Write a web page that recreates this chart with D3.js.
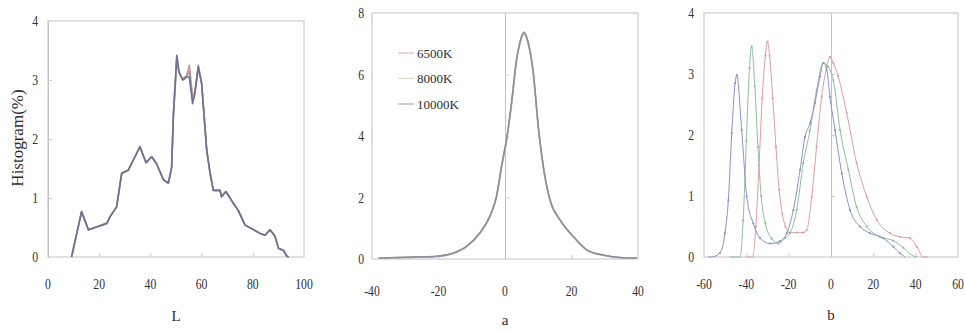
<!DOCTYPE html>
<html>
<head>
<meta charset="utf-8">
<script src="https://cdn.jsdelivr.net/npm/d3@7"></script>
<style>
  body { margin: 0; background: #fff; }
  svg { display: block; }
  text { font-family: "Liberation Serif", "DejaVu Serif", serif; fill: #2e2e2e; }
</style>
</head>
<body>
<div id="chart"></div>
<script>
// ---- data ----
const seriesNames = ["6500K", "8000K", "10000K"];

// L histogram (three series nearly on top of each other)
const lX = [9.2, 13.1, 15.8, 18.9, 23, 24.2, 26.8, 28.8, 31.3, 33.3, 35.9, 38.3, 40.5, 42.4, 45.1, 47, 48.3, 49, 50.3, 51.2, 52.6, 54.2, 55.2, 56.5, 57.4, 58.7, 60, 62, 63.3, 64.6, 67.2, 67.8, 69.5, 72.4, 74.3, 77, 79.6, 82.8, 84.8, 86.7, 88.7, 90, 92, 93.2, 94];
const l6500 = [0, 0.77, 0.46, 0.51, 0.57, 0.68, 0.85, 1.42, 1.47, 1.64, 1.87, 1.6, 1.7, 1.58, 1.31, 1.25, 1.52, 2.4, 3.3, 3.12, 3.02, 3.08, 3.25, 2.72, 2.8, 3.25, 2.96, 1.82, 1.42, 1.13, 1.13, 1.02, 1.11, 0.91, 0.79, 0.54, 0.48, 0.4, 0.37, 0.46, 0.35, 0.15, 0.11, 0.02, 0];
const l8000 = [0, 0.76, 0.46, 0.51, 0.57, 0.68, 0.85, 1.42, 1.47, 1.64, 1.86, 1.6, 1.7, 1.58, 1.31, 1.25, 1.52, 2.42, 3.36, 3.13, 3.0, 3.06, 3.15, 2.65, 2.79, 3.2, 2.95, 1.81, 1.42, 1.13, 1.13, 1.02, 1.11, 0.91, 0.79, 0.54, 0.48, 0.4, 0.37, 0.46, 0.35, 0.15, 0.11, 0.02, 0];
const l10000 = [0, 0.77, 0.46, 0.51, 0.57, 0.68, 0.85, 1.42, 1.47, 1.64, 1.87, 1.6, 1.7, 1.58, 1.31, 1.25, 1.52, 2.43, 3.42, 3.14, 3.0, 3.05, 3.05, 2.6, 2.78, 3.23, 2.94, 1.81, 1.42, 1.13, 1.13, 1.02, 1.11, 0.91, 0.79, 0.54, 0.48, 0.4, 0.37, 0.46, 0.35, 0.15, 0.11, 0.02, 0];

// a histogram
const aX = [-38, -35.6, -25.6, -20.5, -15.5, -11.5, -7.5, -4.5, -2.5, -1, 0.5, 2, 3.5, 4.5, 5.7, 7, 8.5, 10, 11.5, 13.5, 16.5, 20.5, 24.6, 29.6, 34.6, 39.6];
const a6500 = [0.02, 0.03, 0.06, 0.08, 0.18, 0.4, 0.84, 1.38, 2.03, 3.0, 3.87, 5.06, 6.47, 7.0, 7.32, 7.0, 6.04, 4.3, 3.0, 1.92, 1.27, 0.73, 0.29, 0.12, 0.04, 0.03];
const a8000 = [0.02, 0.04, 0.06, 0.09, 0.19, 0.41, 0.85, 1.4, 2.06, 3.04, 3.9, 5.1, 6.5, 7.04, 7.35, 7.02, 6.06, 4.32, 3.02, 1.93, 1.28, 0.74, 0.3, 0.12, 0.05, 0.03];
const a10000 = [0.03, 0.04, 0.07, 0.09, 0.2, 0.42, 0.86, 1.41, 2.07, 3.05, 3.92, 5.12, 6.52, 7.06, 7.38, 7.04, 6.08, 4.33, 3.03, 1.94, 1.28, 0.74, 0.3, 0.13, 0.05, 0.03];

// b histogram (three clearly separated series)
const bX6500 = [-40, -37, -35.5, -34, -32.5, -31, -30, -29, -27.5, -26, -24.5, -23, -21.5, -19.5, -16.2, -13.1, -11.5, -9.1, -6.8, -4.4, -2, -0.5, 1.1, 3.4, 7.4, 12.1, 16.9, 21.6, 27.9, 32.6, 37.3, 40.5, 43.6, 46];
const bY6500 = [0, 0, 0.5, 1.5, 2.6, 3.3, 3.53, 3.3, 2.6, 1.8, 1.1, 0.7, 0.5, 0.4, 0.4, 0.4, 0.44, 0.99, 1.81, 2.63, 3.12, 3.28, 3.18, 2.96, 2.36, 1.54, 0.99, 0.61, 0.39, 0.33, 0.31, 0.17, 0, 0];
const bX8000 = [-48, -43, -41.5, -40, -38.5, -37.5, -36, -34.5, -33, -31, -28, -24.9, -21.7, -19.4, -16.2, -13.1, -9.9, -6.8, -3.6, -1.3, 1.1, 4.3, 8.2, 12.1, 16.9, 23.1, 29.4, 34.2, 37.3, 40.5];
const bY8000 = [0, 0, 0.6, 1.9, 3.1, 3.45, 2.8, 1.8, 1.0, 0.55, 0.3, 0.22, 0.31, 0.39, 0.77, 1.54, 2.08, 2.74, 3.18, 3.12, 2.9, 2.08, 1.43, 0.82, 0.5, 0.33, 0.27, 0.15, 0.05, 0];
const bX10000 = [-58, -56.4, -52.4, -50.1, -48.5, -46.9, -45.3, -44.5, -42.2, -39.8, -36.7, -33.5, -28.8, -24.1, -20.9, -17.8, -14.6, -12.3, -9.9, -7.6, -5.2, -3.6, -2, -0.5, 1.9, 5.1, 9, 13.7, 18.4, 24.7, 29.4, 32.6, 35];
const bY10000 = [0, 0, 0.07, 0.39, 0.93, 2.03, 2.85, 2.98, 2.08, 0.99, 0.55, 0.31, 0.22, 0.26, 0.39, 0.77, 1.43, 1.97, 2.19, 2.52, 2.96, 3.18, 3.07, 2.63, 2.08, 1.37, 0.77, 0.5, 0.39, 0.31, 0.17, 0.06, 0];

// ---- styles ----
const legendColors = ["#e2b4b8", "#d8dcb8", "#a9a9bf"];
const frameColor = "#c2c2c2";

const svg = d3.select("#chart").append("svg")
  .attr("width", 965)
  .attr("height", 333);

function drawPanel(o) {
  const g = svg.append("g");
  const x = d3.scaleLinear().domain(o.xDomain).range([o.left, o.right]);
  const y = d3.scaleLinear().domain(o.yDomain).range([o.bottom, o.top]);

  g.append("rect")
    .attr("x", o.left).attr("y", o.top)
    .attr("width", o.right - o.left).attr("height", o.bottom - o.top)
    .attr("fill", "none").attr("stroke", frameColor);

  // small inward ticks along the bottom
  g.append("g")
    .attr("transform", `translate(0,${o.bottom})`)
    .call(d3.axisBottom(x).tickValues(o.xTicks.slice(1, -1)).tickSize(-4).tickFormat(""))
    .call(a => a.select(".domain").remove())
    .selectAll("line").attr("stroke", "#cacaca");

  // vertical axis through x = 0
  g.append("g")
    .attr("transform", `translate(${x(0)},0)`)
    .call(d3.axisRight(y).tickValues(o.yTicks.slice(1, -1)).tickSize(4).tickSizeOuter(0).tickFormat(""))
    .call(a => a.select(".domain").attr("stroke", frameColor))
    .selectAll("line").attr("stroke", "#cacaca");

  g.selectAll(".xlab").data(o.xTicks).join("text")
    .attr("transform", d => `translate(${x(d)},${o.bottom + o.xLabelDy}) scale(0.78,1)`)
    .attr("text-anchor", "middle")
    .style("font-size", "15px")
    .text(d => String(d));

  g.selectAll(".ylab").data(o.yTicks).join("text")
    .attr("transform", d => `translate(${o.left - o.yLabelDx},${y(d) + 5}) scale(0.78,1)`)
    .attr("text-anchor", "end")
    .style("font-size", "15px")
    .text(d => String(d));

  g.append("text")
    .attr("x", x(o.titleAt)).attr("y", o.bottom + o.titleDy)
    .attr("text-anchor", "middle")
    .style("font-size", "15px")
    .text(o.title);

  const line = d3.line().curve(o.curve).x(d => x(d[0])).y(d => y(d[1]));
  o.series.forEach((s, i) => {
    const pts = d3.zip(s.x, s.y);
    g.append("path")
      .datum(pts)
      .attr("d", line)
      .attr("fill", "none")
      .attr("stroke", o.colors[i])
      .attr("stroke-width", o.lineWidth)
      .attr("stroke-linejoin", "round");
    if (o.markers) {
      g.selectAll(null).data(pts.filter(p => p[1] > 0.05)).join("circle")
        .attr("cx", p => x(p[0])).attr("cy", p => y(p[1]))
        .attr("r", 1.1)
        .attr("fill", o.colors[i]);
    }
  });
  return { g, x, y };
}

drawPanel({
  left: 48, right: 304, top: 21, bottom: 257,
  xDomain: [0, 100], yDomain: [0, 4],
  xTicks: [0, 20, 40, 60, 80, 100], yTicks: [0, 1, 2, 3, 4],
  xLabelDy: 32, yLabelDx: 10, title: "L", titleAt: 50, titleDy: 64,
  lineWidth: 1.6, curve: d3.curveLinear, markers: false,
  colors: ["#d68f96", "#8fa6a0", "#6f6f92"],
  series: [{ x: lX, y: l6500 }, { x: lX, y: l8000 }, { x: lX, y: l10000 }]
});

svg.append("text")
  .attr("transform", "translate(23,138) rotate(-90)")
  .attr("text-anchor", "middle")
  .style("font-size", "17px")
  .text("Histogram(%)");

const pa = drawPanel({
  left: 372, right: 638, top: 13, bottom: 259,
  xDomain: [-40, 40], yDomain: [0, 8],
  xTicks: [-40, -20, 0, 20, 40], yTicks: [0, 2, 4, 6, 8],
  xLabelDy: 37, yLabelDx: 8, title: "a", titleAt: 0, titleDy: 66,
  lineWidth: 1.5, curve: d3.curveMonotoneX, markers: false,
  colors: ["#c9a3a6", "#a9b8a6", "#8e8e9e"],
  series: [{ x: aX, y: a6500 }, { x: aX, y: a8000 }, { x: aX, y: a10000 }]
});

// legend in the a panel
const legend = pa.g.selectAll(".leg").data(seriesNames).join("g")
  .attr("transform", (d, i) => `translate(398,${53 + i * 25.5})`);
legend.append("line")
  .attr("x1", 0).attr("x2", 16)
  .attr("stroke", (d, i) => legendColors[i]).attr("stroke-width", 1.2);
legend.append("text")
  .attr("x", 19).attr("y", 4.5)
  .style("font-size", "13px")
  .text(d => d);

drawPanel({
  left: 704, right: 958, top: 13, bottom: 257,
  xDomain: [-60, 60], yDomain: [0, 4],
  xTicks: [-60, -40, -20, 0, 20, 40, 60], yTicks: [0, 1, 2, 3, 4],
  xLabelDy: 32, yLabelDx: 10, title: "b", titleAt: 0, titleDy: 63,
  lineWidth: 1.0, curve: d3.curveMonotoneX, markers: true,
  colors: ["#dc9ea6", "#8fbf9c", "#8f8fc4"],
  series: [{ x: bX6500, y: bY6500 }, { x: bX8000, y: bY8000 }, { x: bX10000, y: bY10000 }]
});
</script>
</body>
</html>
